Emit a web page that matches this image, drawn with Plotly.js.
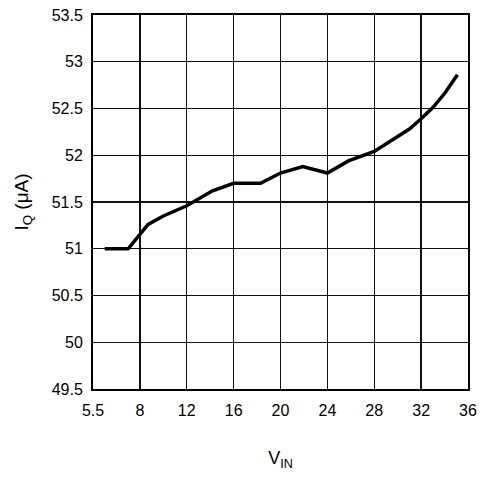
<!DOCTYPE html>
<html>
<head>
<meta charset="utf-8">
<script src="https://cdn.plot.ly/plotly-3.0.1.min.js"></script>
<style>html,body{margin:0;padding:0;background:#fff;}#chart{width:482px;height:479px;}</style>
</head>
<body>
<div id="chart"></div>
<script>
// VIN (plotted axis position) and quiescent current IQ (uA)
const vin = [5.0, 7.0, 8.7, 10, 12, 14.2, 16, 18.3, 20, 21.9, 24, 25.8, 28, 29.6, 31, 32, 33, 34, 35.1];
const iq  = [51.0, 51.0, 51.26, 51.35, 51.46, 51.62, 51.70, 51.70, 51.81, 51.88, 51.81, 51.94, 52.04, 52.17, 52.28, 52.39, 52.51, 52.66, 52.86];
const xTickVals = [4, 8, 12, 16, 20, 24, 28, 32, 36];
const xTickText = ["5.5", "8", "12", "16", "20", "24", "28", "32", "36"];
const yTickVals = [49.5, 50, 50.5, 51, 51.5, 52, 52.5, 53, 53.5];
const yTickText = ["49.5", "50", "50.5", "51", "51.5", "52", "52.5", "53", "53.5"];

const font = {family: "Liberation Sans, Arial, sans-serif", size: 16, color: "#000"};

Plotly.newPlot("chart", [{
  x: vin, y: iq, type: "scatter", mode: "lines",
  line: {color: "#000", width: 3.5},
  hoverinfo: "skip"
}], {
  width: 482, height: 479,
  margin: {l: 93, r: 14, t: 15, b: 90},
  paper_bgcolor: "#fff", plot_bgcolor: "#fff",
  showlegend: false,
  font: font,
  xaxis: {
    range: [4, 36], tickvals: xTickVals, ticktext: xTickText,
    showgrid: true, gridcolor: "#111", gridwidth: 1.3,
    showline: true, linecolor: "#000", linewidth: 2, mirror: true,
    ticks: "outside", ticklen: 6, tickcolor: "rgba(0,0,0,0)",
    zeroline: false, tickfont: font,
    title: {text: "V<sub>IN</sub>", font: {family: font.family, size: 18, color: "#000"}, standoff: 33}
  },
  yaxis: {
    range: [49.5, 53.5], tickvals: yTickVals, ticktext: yTickText,
    showgrid: true, gridcolor: "#111", gridwidth: 1.3,
    showline: true, linecolor: "#000", linewidth: 2, mirror: true,
    ticks: "outside", ticklen: 5, tickcolor: "rgba(0,0,0,0)",
    zeroline: false, tickfont: font,
    title: {text: "I<sub>Q</sub> (μA)", font: {family: font.family, size: 19, color: "#000"}, standoff: 18}
  }
}, {displayModeBar: false, staticPlot: true});
</script>
</body>
</html>
